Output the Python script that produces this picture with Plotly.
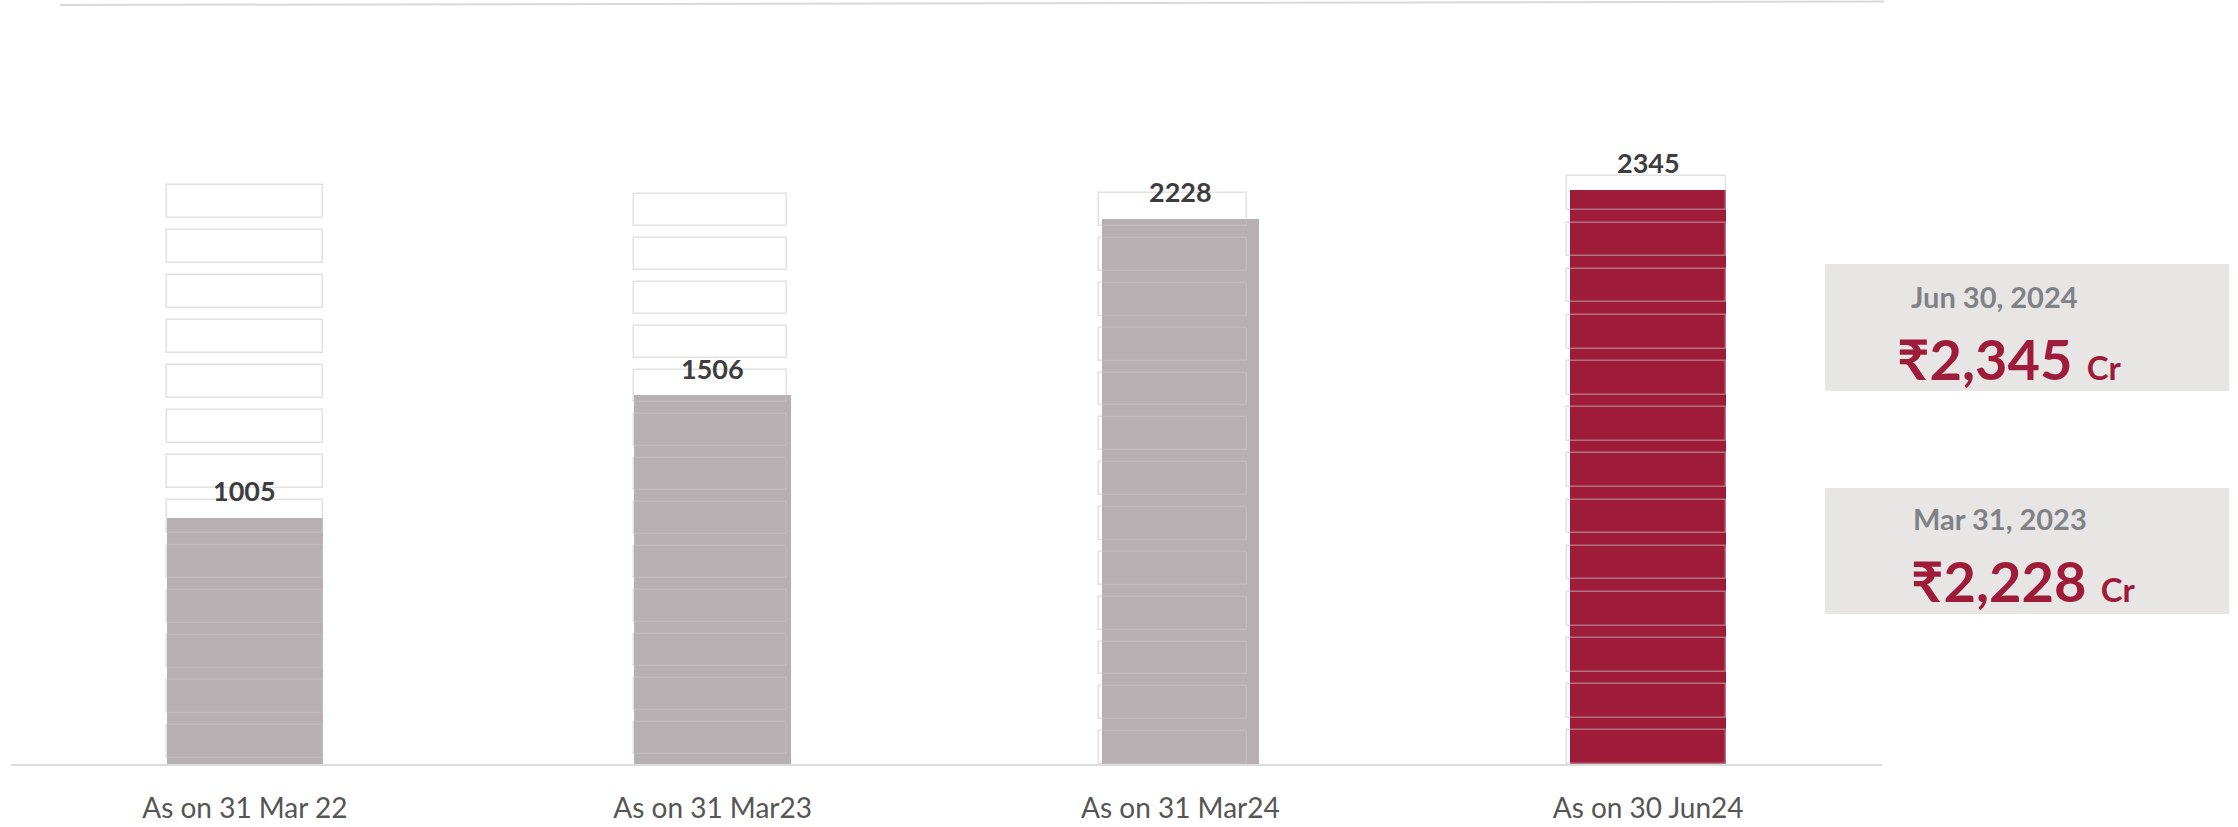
import plotly.graph_objects as go

# ---- data ----
categories = ["As on 31 Mar 22", "As on 31 Mar23", "As on 31 Mar24", "As on 30 Jun24"]
values = [1005, 1506, 2228, 2345]
bar_colors = ["#b6b0b2", "#b6b0b2", "#b6b0b2", "#9e1b3a"]

callout_dates = ["Jun 30, 2024", "Mar 31, 2023"]
callout_values = [2345, 2228]

# ---- decorative ghost stacks behind bars (style) ----
GHOST_COUNT = 13
GHOST_TOP = [2363, 2327, 2331, 2400]
GHOST_BOTTOM = [24, 40, 0, 0]
GHOST_FILL_FRAC = 0.73
GHOST_WIDTH = [0.3335, 0.327, 0.316, 0.340]
GHOST_OFFSET = [-0.1665, -0.1682, -0.1742, -0.1738]

W, H = 2238, 827
L, R, T, B = 11, 356, 5, 63
PW, PH = W - L - R, H - T - B
YMAX = 3100


def px2paper_x(px):
    return (px - L) / PW


def px2paper_y(py):
    return (H - B - py) / PH


fig = go.Figure()

fig.add_trace(go.Bar(
    x=categories, y=values, width=0.3345,
    marker=dict(color=bar_colors, line=dict(width=0)),
    hoverinfo="skip", showlegend=False,
))

gx, gbase, gh, gw, go_ = [], [], [], [], []
for i, c in enumerate(categories):
    span = GHOST_TOP[i] - GHOST_BOTTOM[i]
    period = span / (GHOST_COUNT - 1 + GHOST_FILL_FRAC)
    boxh = period * GHOST_FILL_FRAC
    for k in range(GHOST_COUNT):
        gx.append(c)
        gbase.append(GHOST_BOTTOM[i] + k * period)
        gh.append(boxh)
        gw.append(GHOST_WIDTH[i])
        go_.append(GHOST_OFFSET[i])

fig.add_trace(go.Bar(
    x=gx, y=gh, base=gbase, width=gw, offset=go_,
    marker=dict(color="rgba(0,0,0,0)", line=dict(color="rgba(198,198,198,0.5)", width=1.5)),
    hoverinfo="skip", showlegend=False,
))

annotations = []
for c, v in zip(categories, values):
    annotations.append(dict(
        x=c, y=v, xref="x", yref="y", text=f"<b>{v}</b>", showarrow=False,
        yanchor="middle", yshift=27,
        font=dict(family="Lato", size=27, color="#3d3d3d"),
    ))

panels_px = [(1825, 264, 2229, 391), (1825, 488, 2229, 614)]
date_pos = [(1909, 297), (1911, 518)]
val_pos = [(1895, 358), (1909, 580)]
shapes = []
for (x0, y0, x1, y1) in panels_px:
    shapes.append(dict(type="rect", xref="paper", yref="paper",
                       x0=px2paper_x(x0), x1=px2paper_x(x1),
                       y0=px2paper_y(y1), y1=px2paper_y(y0),
                       fillcolor="#e8e5e5", line=dict(width=0), layer="below"))
for d, v, (dx, dy), (vx, vy) in zip(callout_dates, callout_values, date_pos, val_pos):
    annotations.append(dict(
        x=px2paper_x(dx), y=px2paper_y(dy), xref="paper", yref="paper",
        xanchor="left", yanchor="middle", showarrow=False,
        text=f"<b>{d}</b>", font=dict(family="Lato", size=29, color="#808285"),
    ))
    annotations.append(dict(
        x=px2paper_x(vx), y=px2paper_y(vy), xref="paper", yref="paper",
        xanchor="left", yanchor="middle", showarrow=False,
        text=f"<b>₹{v:,}</b>\u00a0<b><span style='font-size:33px'>Cr</span></b>",
        font=dict(family="Lato", size=56, color="#9e1b3a"),
    ))

# top rule
shapes.append(dict(type="line", xref="paper", yref="paper",
                   x0=px2paper_x(60), y0=px2paper_y(5), x1=px2paper_x(1884), y1=px2paper_y(1.5),
                   line=dict(color="#d9d9d9", width=2)))

fig.update_layout(
    width=W, height=H,
    margin=dict(l=L, r=R, t=T, b=B, pad=0, autoexpand=False),
    paper_bgcolor="white", plot_bgcolor="white",
    barmode="overlay", bargap=0,
    showlegend=False,
    xaxis=dict(
        type="category", showgrid=False, zeroline=False, automargin=False,
        showline=True, linecolor="#dcdcdc", linewidth=2,
        ticks="", ticklabelstandoff=18,
        tickfont=dict(family="Lato", size=28, color="#555555", weight=400),
    ),
    yaxis=dict(range=[0, YMAX], visible=False, showgrid=False, zeroline=False, automargin=False),
    annotations=annotations,
    shapes=shapes,
)

fig.write_html("out.html", config={"displayModeBar": False},
               post_script="document.body.style.margin='0';")
